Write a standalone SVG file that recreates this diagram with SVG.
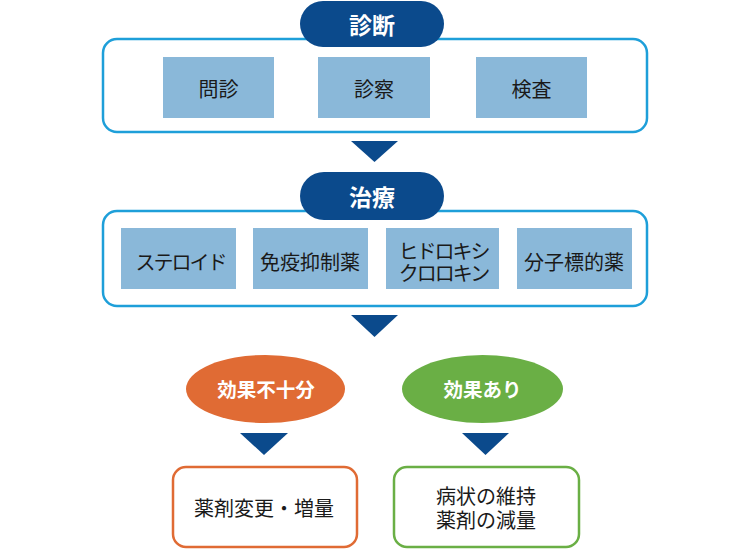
<svg xmlns="http://www.w3.org/2000/svg" width="750" height="550" viewBox="0 0 750 550">
<style>
.grp{fill:#fff;stroke:#1e9fd9;stroke-width:2.5}
.pill{fill:#0b4a8c}
.box{fill:#8ab8d9}
.t{font-family:"Noto Sans CJK JP","Noto Sans",sans-serif;font-size:20px;fill:#1a1a1a;text-anchor:middle;dominant-baseline:central}
.k{letter-spacing:-2px}
.w{font-family:"Noto Sans CJK JP","Noto Sans",sans-serif;font-weight:bold;fill:#fff;text-anchor:middle;dominant-baseline:central}
.arr{fill:#0b4a8c}
</style>
<rect width="750" height="550" fill="#fff"/>
<g id="diagnosis">
<rect class="grp" x="103" y="39" width="544" height="93" rx="14"/>
<rect class="pill" x="300" y="1" width="144" height="46" rx="23"/>
<text class="w" x="372" y="24" font-size="23">診断</text>
</g>
<g id="monshin"><rect class="box" x="163" y="57" width="111" height="61"/><text class="t" x="218.5" y="88" font-size="21">問診</text></g>
<g id="shinsatsu"><rect class="box" x="318" y="57" width="112" height="61"/><text class="t" x="374" y="88" font-size="21">診察</text></g>
<g id="kensa"><rect class="box" x="476" y="57" width="111" height="61"/><text class="t" x="531.5" y="88" font-size="21">検査</text></g>
<g id="treatment">
<rect class="grp" x="103" y="211" width="544" height="95" rx="14"/>
<rect class="pill" x="300" y="172" width="144" height="48" rx="24"/>
<text class="w" x="372" y="196" font-size="23">治療</text>
</g>
<g id="steroid"><rect class="box" x="121" y="228" width="115" height="61"/><text class="t k" x="180.5" y="261" font-size="19">ステロイド</text></g>
<g id="immuno"><rect class="box" x="253" y="228" width="115" height="61"/><text class="t" x="310" y="261" font-size="19.5">免疫抑制薬</text></g>
<g id="hcq"><rect class="box" x="386" y="228" width="113" height="61"/><text class="t k" font-size="19"><tspan x="443.5" y="250">ヒドロキシ</tspan><tspan x="443.5" y="272">クロロキン</tspan></text></g>
<g id="molecular"><rect class="box" x="517" y="228" width="115" height="61"/><text class="t" x="574" y="261" font-size="19.5">分子標的薬</text></g>
<g id="insufficient"><ellipse cx="265.5" cy="389" rx="79.5" ry="34" fill="#e06b34"/><text class="w" x="266" y="388" font-size="19.5">効果不十分</text></g>
<g id="effective"><ellipse cx="482.5" cy="389" rx="80.5" ry="34" fill="#6aaf45"/><text class="w" x="482.5" y="388" font-size="19.5">効果あり</text></g>
<g id="change"><rect x="173" y="467" width="184" height="80" rx="13" fill="#fff" stroke="#e06b34" stroke-width="2.5"/><text class="t" x="264" y="507">薬剤変更・増量</text></g>
<g id="reduce"><rect x="394" y="467" width="185" height="80" rx="13" fill="#fff" stroke="#6aaf45" stroke-width="2.5"/><text class="t"><tspan x="486" y="495">病状の維持</tspan><tspan x="486" y="518.5">薬剤の減量</tspan></text></g>
<g id="connectors">
<polygon class="arr" points="351,141 398,141 374.5,162"/>
<polygon class="arr" points="351,315 398,315 374.5,337"/>
<polygon class="arr" points="240,433 288,433 264,455"/>
<polygon class="arr" points="462,433 509,433 485.5,455"/>
</g>
</svg>
